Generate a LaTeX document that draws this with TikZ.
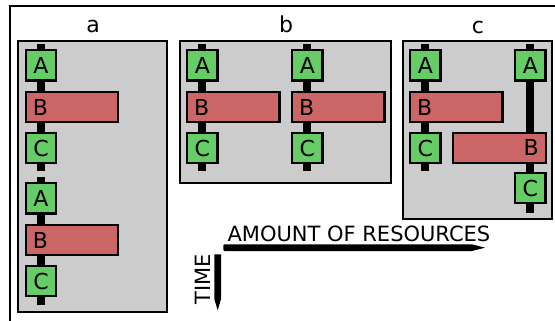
\documentclass[tikz,border=0pt]{standalone}
\usepackage{fontspec}
\setmainfont{DejaVu Sans}
\definecolor{panelgray}{RGB}{204,204,204}
\definecolor{stagegreen}{RGB}{102,204,102}
\definecolor{stagered}{RGB}{204,102,102}
\tikzset{
  panel/.style={draw=black, line width=2pt, fill=panelgray},
  paneltitle/.style={anchor=base, font=\fontsize{22}{22}\selectfont},
  spine/.style={line width=8pt, line cap=butt, black},
  stage/.style={draw=black, line width=2.2pt, fill=stagegreen, anchor=north west,
    minimum width=30.4pt, minimum height=30.4pt, inner sep=0pt,
    font=\fontsize{22}{22}\selectfont},
  widestage/.style={draw=black, line width=2.2pt, fill=stagered, anchor=north west,
    text width=78.3pt, inner xsep=7pt, inner ysep=0pt, minimum height=29.8pt,
    align=left, font=\fontsize{22}{22}\selectfont},
  axislabel/.style={font=\fontsize{21}{21}\selectfont},
}
\begin{document}
\begin{tikzpicture}[x=1pt, y=-1pt]
\useasboundingbox (0,0) rectangle (555,321);

% outer frame (only top and left edges fall inside the page)
\draw[line width=2pt] (555,6) -- (10,6) -- (10,321);

% ---------------- panel a ----------------
\node[paneltitle] (ta) at (93,32.3) {a};
\filldraw[panel] (18,40.7) rectangle (167,312);
\coordinate (a1top) at (41,44);   \coordinate (a1bot) at (41,171);
\coordinate (a2top) at (41,177);  \coordinate (a2bot) at (41,304.5);
\draw[spine] (a1top) -- (a1bot);
\draw[spine] (a2top) -- (a2bot);
\node[stage]     (aA1) at (24.7,49)    {A};
\node[widestage] (aB1) at (24.7,91)    {B};
\node[stage]     (aC1) at (24.7,131.7) {C};
\node[stage]     (aA2) at (24.7,182)   {A};
\node[widestage] (aB2) at (24.7,224)   {B};
\node[stage]     (aC2) at (24.7,264.7) {C};

% ---------------- panel b ----------------
\node[paneltitle] (tb) at (286,32.3) {b};
\filldraw[panel] (180,40.7) rectangle (391,183);
\coordinate (b1top) at (202.3,44); \coordinate (b1bot) at (202.3,171);
\coordinate (b2top) at (307.3,44); \coordinate (b2bot) at (307.3,171);
\draw[spine] (b1top) -- (b1bot);
\draw[spine] (b2top) -- (b2bot);
\node[stage]     (bA1) at (186,49)    {A};
\node[widestage] (bB1) at (186,91)    {B};
\node[stage]     (bC1) at (186,131.7) {C};
\node[stage]     (bA2) at (291,49)    {A};
\node[widestage] (bB2) at (291,91)    {B};
\node[stage]     (bC2) at (291,131.7) {C};

% ---------------- panel c ----------------
\node[paneltitle] (tc) at (478,34) {c};
\filldraw[panel] (403,40.7) rectangle (552,219);
\coordinate (c1top) at (425.3,44); \coordinate (c1bot) at (425.3,171);
\coordinate (c2top) at (530.3,44); \coordinate (c2bot) at (530.3,212.7);
\draw[spine] (c1top) -- (c1bot);
\draw[spine] (c2top) -- (c2bot);
\node[stage]     (cA1) at (409,49)    {A};
\node[widestage] (cB1) at (409,91)    {B};
\node[stage]     (cC1) at (409,131.7) {C};
\node[stage]     (cA2) at (514,49)    {A};
\node[widestage, align=right] (cB2) at (452.2,131.7) {B};
\node[stage]     (cC2) at (514,171.7) {C};

% ---------------- axes ----------------
\node[axislabel, anchor=base west] (xlab) at (224,241) {AMOUNT OF RESOURCES};
\node[axislabel, rotate=90, anchor=base] (ylab) at (210.7,279.5) {TIME};
\fill[black, rounded corners=1pt] (223.3,244.3) -- (472,244.3) [sharp corners] -- (485,247.7)
  -- (472,251) [rounded corners=1pt] -- (223.3,251) -- cycle;
\fill[black] (214.3,254.3) -- (221,254.3) -- (221,299) -- (217.7,310.3)
  -- (214.3,299) -- cycle;
\end{tikzpicture}
\end{document}
